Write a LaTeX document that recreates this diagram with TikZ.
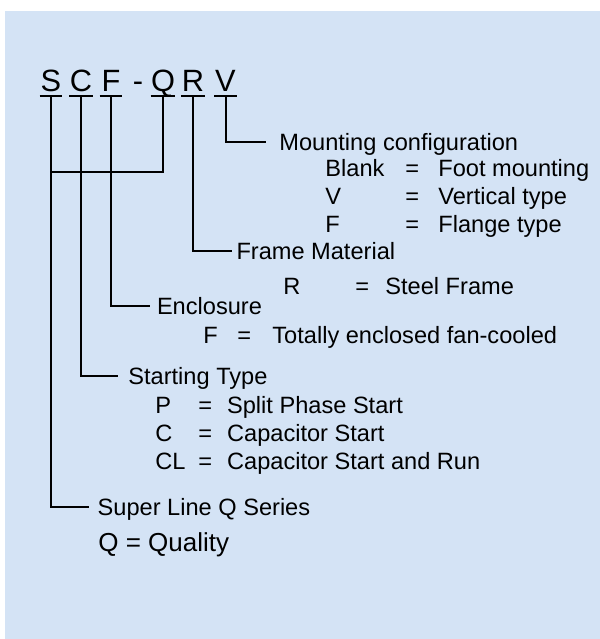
\documentclass[tikz,border=0pt]{standalone}
\usepackage{fontspec}
\setmainfont{Liberation Sans}
\usetikzlibrary{positioning}
\definecolor{panelbg}{RGB}{212,227,245}

\begin{document}
\begin{tikzpicture}[
    x=0.5pt, y=-0.5pt,
    codeletter/.style={font=\fontsize{15.4}{18}\selectfont, inner xsep=0pt, inner ysep=2.5pt, minimum width=11pt, text height=11pt, text depth=0pt, anchor=base},
    keytext/.style={font=\fontsize{11.8}{14}\selectfont, inner ysep=0pt, text height=8.4pt, text depth=0pt, anchor=west},
    opttext/.style={keytext, inner xsep=0pt},
    leader/.style={line width=1pt, black}
]
% panel
\fill[panelbg] (5,11) rectangle (600,639);
\useasboundingbox (0,0) rectangle (600,639);

% model code
\node[codeletter] (LS) at (51,91) {S};
\node[codeletter] (LC) at (81,91) {C};
\node[codeletter] (LF) at (111,91) {F};
\node[codeletter] (dash) at (138,91) {-};
\node[codeletter] (LQ) at (163,91) {Q};
\node[codeletter] (LR) at (193,91) {R};
\node[codeletter] (LV) at (225.5,91) {V};
\foreach \n in {LS,LC,LF,LQ,LR,LV}
  \draw[leader] (\n.south west) -- (\n.south east);

% headings
\node[keytext, inner xsep=6.5pt] (mount) at (266,141.7) {Mounting configuration};
\node[keytext, inner xsep=2.2pt] (frame) at (231.7,251) {Frame Material};
\node[keytext, inner xsep=3.3pt] (encl) at (150,305.7) {Enclosure};
\node[keytext, inner xsep=5pt] (start) at (118,375.7) {Starting Type};
\node[keytext, inner xsep=4pt] (series) at (89.3,506.7) {Super Line Q Series};

% mounting options
\node[opttext] (m1) at (325,168) {Blank};
\node[opttext] (m1eq) at (405,168) {=};
\node[opttext] (m1d) at (438,168) {Foot mounting};
\node[opttext] (m2) at (325,196.5) {V};
\node[opttext] (m2eq) at (405,196.5) {=};
\node[opttext] (m2d) at (438,196.5) {Vertical type};
\node[opttext] (m3) at (325,224.5) {F};
\node[opttext] (m3eq) at (405,224.5) {=};
\node[opttext] (m3d) at (438,224.5) {Flange type};

% frame options
\node[opttext] (r1) at (283,286) {R};
\node[opttext] (r1eq) at (355,286) {=};
\node[opttext] (r1d) at (385,286) {Steel Frame};

% enclosure options
\node[opttext] (e1) at (203,334.7) {F};
\node[opttext] (e1eq) at (237,334.7) {=};
\node[opttext] (e1d) at (272,334.7) {Totally enclosed fan-cooled};

% starting options
\node[opttext] (s1) at (155,405) {P};
\node[opttext] (s1eq) at (198,405) {=};
\node[opttext] (s1d) at (226.7,405) {Split Phase Start};
\node[opttext] (s2) at (155,433.3) {C};
\node[opttext] (s2eq) at (198,433.3) {=};
\node[opttext] (s2d) at (226.7,433.3) {Capacitor Start};
\node[opttext] (s3) at (155,461) {CL};
\node[opttext] (s3eq) at (198,461) {=};
\node[opttext] (s3d) at (226.7,461) {Capacitor Start and Run};

\node[opttext, font=\fontsize{13}{16}\selectfont, text height=9.3pt] (quality) at (98,542) {Q = Quality};

% leaders
\coordinate (qjoin) at (51,171.7);
\draw[leader] (LV.south) |- (mount.west);
\draw[leader] (LR.south) |- (frame.west);
\draw[leader] (LF.south) |- (encl.west);
\draw[leader] (LC.south) |- (start.west);
\draw[leader] (LS.south) |- (series.west);
\draw[leader] (LQ.south) |- (qjoin);
\end{tikzpicture}
\end{document}
